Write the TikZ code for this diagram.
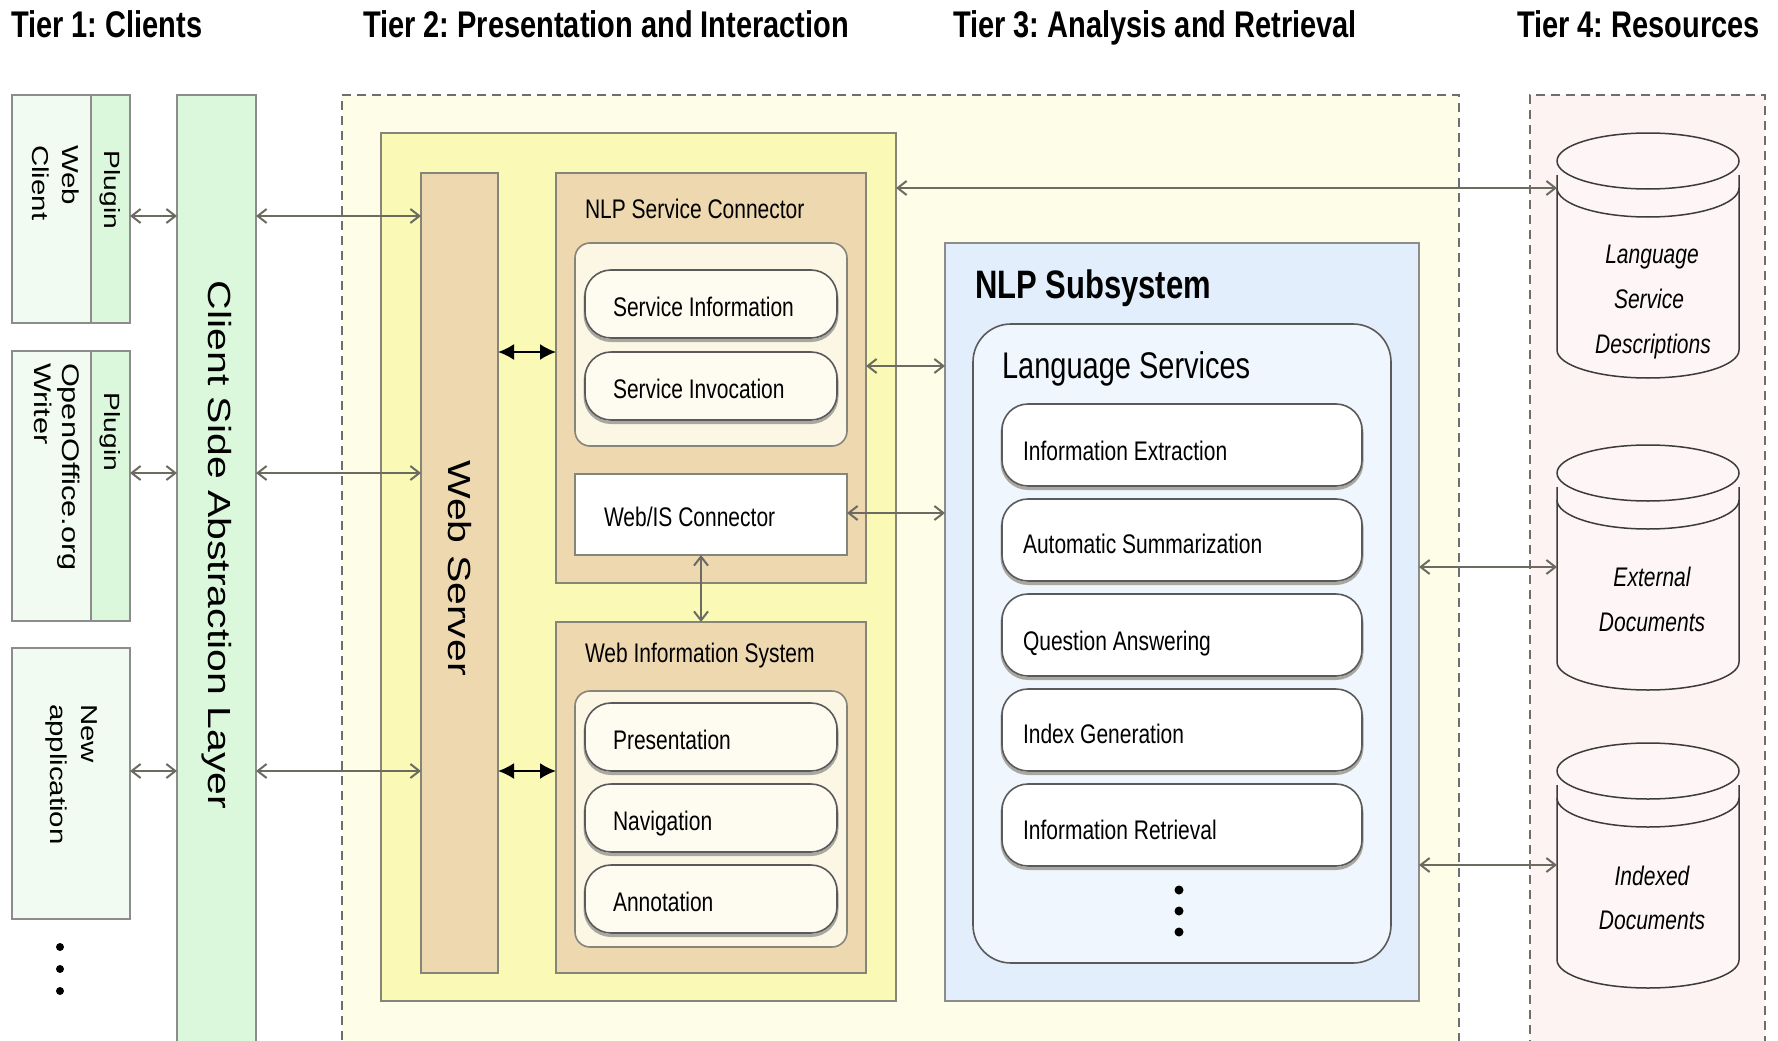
\documentclass[tikz,border=0pt]{standalone}
\usepackage{fontspec}
\setmainfont{Liberation Sans}
\usepackage{graphicx}
\usetikzlibrary{arrows.meta}
\frenchspacing

\definecolor{tiertwobg}{HTML}{FDFDE8}
\definecolor{tierfourbg}{HTML}{FDF3F3}
\definecolor{presfill}{HTML}{FAFAB6}
\definecolor{tanbox}{HTML}{EED8B0}
\definecolor{tanin}{HTML}{FCF6E4}
\definecolor{cream}{HTML}{FEFCF0}
\definecolor{nlpfill}{HTML}{E3EEFC}
\definecolor{lsfill}{HTML}{EFF6FD}
\definecolor{greenA}{HTML}{DCF8DC}
\definecolor{greenB}{HTML}{F1FBF1}
\definecolor{edgec}{HTML}{85857A}
\definecolor{greyedge}{HTML}{8C8C8C}
\definecolor{pilledge}{HTML}{5A5A5A}
\definecolor{shadowc}{HTML}{A8A8A0}
\definecolor{linkc}{HTML}{6B6B62}
\definecolor{dashc}{HTML}{6E6E6E}
\definecolor{cylfill}{HTML}{FEF6F6}
\definecolor{cyledge}{HTML}{3C3C3C}

% font size helper and the vertical / along-baseline stretch used for all labels
\newcommand\fs[2]{\fontsize{#1}{#2}\selectfont}
\newcommand\hstr[1]{\scalebox{1}[1.28]{#1}}
\newcommand\vstr[1]{\scalebox{1.28}[1]{#1}}
\newcommand\lines[1]{\begin{tabular}{@{}l@{}}#1\end{tabular}}

% database cylinder: #1 = top y, #2 = node name
\newcommand\drawcyl[2]{%
  \fill[cylfill] (1557,{#1+28}) arc[start angle=180,end angle=0,x radius=91pt,y radius=28pt]
     -- (1739,{#1+217}) arc[start angle=0,end angle=-180,x radius=91pt,y radius=28pt] -- cycle;
  \draw[cylline] (1648,{#1+28}) ellipse[x radius=91pt,y radius=28pt];
  \draw[cylline] (1557,{#1+55}) arc[start angle=180,end angle=360,x radius=91pt,y radius=29pt];
  \draw[cylline] (1557,{#1+42}) -- (1557,{#1+217})
     arc[start angle=180,end angle=360,x radius=91pt,y radius=28pt] -- (1739,{#1+42});
  \node[inner sep=0,outer sep=0,minimum width=182,minimum height=245,anchor=north] (#2) at (1648,#1) {};
}

\begin{document}
\begin{tikzpicture}[x=1pt,y=-1pt,
  box/.style={draw=edgec,line width=2.5pt,inner sep=0,outer sep=0,anchor=north west},
  region/.style={draw=dashc,line width=1.8pt,dash pattern=on 9pt off 6pt,inner sep=0,outer sep=0,anchor=north west},
  holder/.style={box,draw=#1,line width=1.6pt,rounded corners=15pt},
  pill/.style={box,draw=pilledge,line width=1.6pt,fill=#1,rounded corners=26pt,
    preaction={draw=shadowc,line width=3pt,transform canvas={yshift=-2.5pt}}},
  lbl/.style={inner sep=0,outer sep=0,font=\fs{21}{25}},
  title/.style={inner sep=0,outer sep=0,anchor=base west,font=\fs{29}{34}\bfseries},
  cyltext/.style={inner sep=0,outer sep=0,anchor=base,font=\fs{21}{25}\itshape},
  cylline/.style={draw=cyledge,line width=1.5pt},
  link/.style={draw=linkc,line width=2pt,
    {Straight Barb[length=9pt,width=14pt]}-{Straight Barb[length=9pt,width=14pt]}},
  blink/.style={draw=black,line width=2pt,{Latex[length=16pt,width=16pt]}-{Latex[length=16pt,width=16pt]}},
  dot/.style={fill=black}]

\useasboundingbox (0,0) rectangle (1778,1041);
\clip (0,0) rectangle (1778,1041);
\fill[white] (0,0) rectangle (1778,1041);

% ---- tier headings
\node[title] (t1) at (11,38) {\hstr{Tier 1: Clients}};
\node[title] (t2) at (363,38) {\hstr{Tier 2: Presentation and Interaction}};
\node[title] (t3) at (953,38) {\hstr{Tier 3: Analysis and Retrieval}};
\node[title] (t4) at (1517,38) {\hstr{Tier 4: Resources}};

% ---- tier regions
\node[region,fill=tiertwobg,minimum width=1117,minimum height=1000] (tiertwo) at (342,95) {};
\node[region,fill=tierfourbg,minimum width=235,minimum height=1000] (tierfour) at (1530,95) {};

% ---- tier 1: clients
\node[box,draw=greyedge,fill=greenB,minimum width=118,minimum height=228] (wc) at (12,95) {};
\node[box,draw=greyedge,fill=greenA,minimum width=39,minimum height=228] (wcp) at (91,95) {};
\node[box,draw=greyedge,fill=greenB,minimum width=118,minimum height=270] (oo) at (12,351) {};
\node[box,draw=greyedge,fill=greenA,minimum width=39,minimum height=270] (oop) at (91,351) {};
\node[box,draw=greyedge,fill=greenB,minimum width=118,minimum height=271] (na) at (12,648) {};

\node[lbl,font=\fs{22}{26},rotate=-90] (wcpt) at (110.5,190) {\vstr{Plugin}};
\node[lbl,font=\fs{23}{30},rotate=-90,anchor=west] (wct) at (53,145) {\vstr{\lines{Web\\Client}}};
\node[lbl,font=\fs{22}{26},rotate=-90] (oopt) at (110.5,432) {\vstr{Plugin}};
\node[lbl,font=\fs{24}{28},rotate=-90,anchor=west] (oot) at (54,363) {\vstr{\lines{OpenOffice.org\\Writer}}};
\node[lbl,font=\fs{23}{31},rotate=-90,anchor=west] (nat) at (72,704) {\vstr{\lines{New\\application}}};

\fill[dot] (60,947) circle[radius=4pt];
\fill[dot] (60,969) circle[radius=4pt];
\fill[dot] (60,991) circle[radius=4pt];

% ---- client side abstraction layer
\node[box,draw=greyedge,fill=greenA,minimum width=79,minimum height=1000] (csal) at (177,95) {};
\node[lbl,font=\fs{32}{38},rotate=-90] (csalt) at (216.5,545) {\vstr{Client Side Abstraction Layer}};

% ---- tier 2: presentation and interaction
\node[box,fill=presfill,minimum width=515,minimum height=868] (pres) at (381,133) {};
\node[box,fill=tanbox,minimum width=77,minimum height=800] (ws) at (421,173) {};
\node[lbl,font=\fs{32}{38},rotate=-90] (wst) at (459.5,568) {\vstr{Web Server}};

\node[box,fill=tanbox,minimum width=310,minimum height=410] (nsc) at (556,173) {};
\node[lbl,anchor=base west] (nsct) at (585,218) {\hstr{NLP Service Connector}};
\node[holder=edgec,fill=tanin,minimum width=272,minimum height=203] (nscin) at (575,243) {};
\node[pill=cream,minimum width=252,minimum height=68] (si) at (585,270) {};
\node[lbl,anchor=base west] (sit) at (613,316) {\hstr{Service Information}};
\node[pill=cream,minimum width=252,minimum height=68] (sv) at (585,352) {};
\node[lbl,anchor=base west] (svt) at (613,398) {\hstr{Service Invocation}};
\node[box,fill=white,minimum width=272,minimum height=81] (wisc) at (575,474) {};
\node[lbl,anchor=base west] (wisct) at (604,526) {\hstr{Web/IS Connector}};

\node[box,fill=tanbox,minimum width=310,minimum height=351] (wis) at (556,622) {};
\node[lbl,anchor=base west] (wist) at (585,662) {\hstr{Web Information System}};
\node[holder=edgec,fill=tanin,minimum width=272,minimum height=256] (wisin) at (575,691) {};
\node[pill=cream,minimum width=252,minimum height=68] (pp) at (585,703) {};
\node[lbl,anchor=base west] (ppt) at (613,749) {\hstr{Presentation}};
\node[pill=cream,minimum width=252,minimum height=68] (pn) at (585,784) {};
\node[lbl,anchor=base west] (pnt) at (613,830) {\hstr{Navigation}};
\node[pill=cream,minimum width=252,minimum height=68] (pa) at (585,865) {};
\node[lbl,anchor=base west] (pat) at (613,911) {\hstr{Annotation}};

% ---- tier 3: NLP subsystem
\node[box,draw=greyedge,fill=nlpfill,minimum width=474,minimum height=758] (nlp) at (945,243) {};
\node[lbl,anchor=base west,font=\fs{31}{36}\bfseries] (nlpt) at (975,298) {\hstr{NLP Subsystem}};
\node[holder=pilledge,fill=lsfill,rounded corners=38pt,minimum width=418,minimum height=639] (ls) at (973,324) {};
\node[lbl,anchor=base west,font=\fs{29}{34}] (lst) at (1002,378) {\hstr{Language Services}};

\node[pill=white,minimum width=360,minimum height=82] (ie) at (1002,404) {};
\node[lbl,anchor=base west] (iet) at (1023,460) {\hstr{Information Extraction}};
\node[pill=white,minimum width=360,minimum height=82] (as) at (1002,499) {};
\node[lbl,anchor=base west] (ast) at (1023,553) {\hstr{Automatic Summarization}};
\node[pill=white,minimum width=360,minimum height=82] (qa) at (1002,594) {};
\node[lbl,anchor=base west] (qat) at (1023,650) {\hstr{Question Answering}};
\node[pill=white,minimum width=360,minimum height=82] (ig) at (1002,689) {};
\node[lbl,anchor=base west] (igt) at (1023,743) {\hstr{Index Generation}};
\node[pill=white,minimum width=360,minimum height=82] (ir) at (1002,784) {};
\node[lbl,anchor=base west] (irt) at (1023,839) {\hstr{Information Retrieval}};

\fill[dot] (1179,890) circle[radius=4.5pt];
\fill[dot] (1179,911) circle[radius=4.5pt];
\fill[dot] (1179,932) circle[radius=4.5pt];

% ---- tier 4: resources
\drawcyl{133}{lsd}
\node[cyltext] (lsd1) at (1652,263) {\hstr{Language}};
\node[cyltext] (lsd2) at (1649,308) {\hstr{Service}};
\node[cyltext] (lsd3) at (1653,353) {\hstr{Descriptions}};
\drawcyl{445}{ed}
\node[cyltext] (ed1) at (1652,586) {\hstr{External}};
\node[cyltext] (ed2) at (1652,631) {\hstr{Documents}};
\drawcyl{743}{id}
\node[cyltext] (id1) at (1652,885) {\hstr{Indexed}};
\node[cyltext] (id2) at (1652,929) {\hstr{Documents}};

% ---- connectors
\coordinate (ya) at (0,216);
\coordinate (yb) at (0,473);
\coordinate (yc) at (0,771);
\coordinate (yd) at (0,352);
\coordinate (ye) at (0,188);
\coordinate (yf) at (0,366);
\coordinate (yg) at (0,513);
\coordinate (yh) at (0,567);
\coordinate (yi) at (0,865);
\coordinate (xv) at (701,0);

\draw[link] (wcp.east |- ya) -- (csal.west |- ya);
\draw[link] (oop.east |- yb) -- (csal.west |- yb);
\draw[link] (na.east |- yc) -- (csal.west |- yc);
\draw[link] (csal.east |- ya) -- (ws.west |- ya);
\draw[link] (csal.east |- yb) -- (ws.west |- yb);
\draw[link] (csal.east |- yc) -- (ws.west |- yc);
\draw[blink] (ws.east |- yd) -- (nsc.west |- yd);
\draw[blink] (ws.east |- yc) -- (wis.west |- yc);
\draw[link] (wisc.south -| xv) -- (wis.north -| xv);
\draw[link] (pres.east |- ye) -- (lsd.west |- ye);
\draw[link] (nsc.east |- yf) -- (nlp.west |- yf);
\draw[link] (wisc.east |- yg) -- (nlp.west |- yg);
\draw[link] (nlp.east |- yh) -- (ed.west |- yh);
\draw[link] (nlp.east |- yi) -- (id.west |- yi);

\end{tikzpicture}
\end{document}
